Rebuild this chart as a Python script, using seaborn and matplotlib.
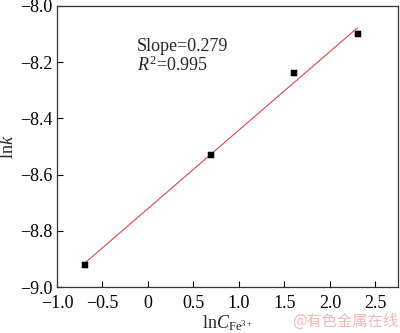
import matplotlib
matplotlib.use("Agg")
import matplotlib.pyplot as plt
import seaborn as sns
import numpy as np
import pandas as pd

ln_c = [-0.693, 0.693, 1.609, 2.303]
ln_k = [-8.92, -8.53, -8.24, -8.10]
x_ticks = [-1.0, -0.5, 0, 0.5, 1.0, 1.5, 2.0, 2.5]
x_tick_labels = ["\u22121.0", "\u22120.5", "0", "0.5", "1.0", "1.5", "2.0", "2.5"]
y_ticks = [-9.0, -8.8, -8.6, -8.4, -8.2, -8.0]
y_tick_labels = ["\u22129.0", "\u22128.8", "\u22128.6", "\u22128.4", "\u22128.2", "\u22128.0"]

sns.set_style("ticks")
plt.rcParams['font.family'] = ['Liberation Serif', 'DejaVu Serif']
plt.rcParams['mathtext.fontset'] = 'custom'
plt.rcParams['mathtext.rm'] = 'Liberation Serif'
plt.rcParams['mathtext.it'] = 'Liberation Serif:italic'

df = pd.DataFrame({"x": ln_c, "y": ln_k})

fig = plt.figure(figsize=(4.0, 3.33), dpi=100)
ax = fig.add_axes([0.1425, 0.138, 0.853, 0.844])

sns.regplot(data=df, x="x", y="y", ax=ax, ci=None, truncate=True,
            scatter=False, line_kws=dict(color="#d9464b", lw=0.8))
sns.scatterplot(data=df, x="x", y="y", ax=ax, marker="s", s=20,
                color="black", edgecolor="black", zorder=5)

ax.set_xlim(-1.0, 2.75)
ax.set_ylim(-9.0, -8.0)
ax.set_xticks(x_ticks)
ax.set_xticklabels(x_tick_labels)
ax.set_yticks(y_ticks)
ax.set_yticklabels(y_tick_labels)
ax.tick_params(direction="in", length=4, width=0.8, labelsize=13, colors="black")
ax.tick_params(axis="x", pad=6)
for s in ax.spines.values():
    s.set_linewidth(0.9)
    s.set_color("#333333")

ax.set_xlabel(r"ln$\mathit{C}_{\mathrm{Fe}^{3+}}$", fontsize=13, labelpad=1)
ax.set_ylabel(r"ln$\mathit{k}$", fontsize=13, labelpad=2)

ax.text(0.235, 0.84, "Slope=0.279", transform=ax.transAxes, fontsize=13)
ax.text(0.235, 0.77, r"$\mathit{R}^2$=0.995", transform=ax.transAxes, fontsize=13)

fig.text(0.995, 0.01, "@有色金属在线", ha="right", va="bottom", fontsize=11,
         color="#f0b8b8", family=["Noto Sans CJK SC", "DejaVu Sans"])

fig.savefig("out.png", dpi=100)
